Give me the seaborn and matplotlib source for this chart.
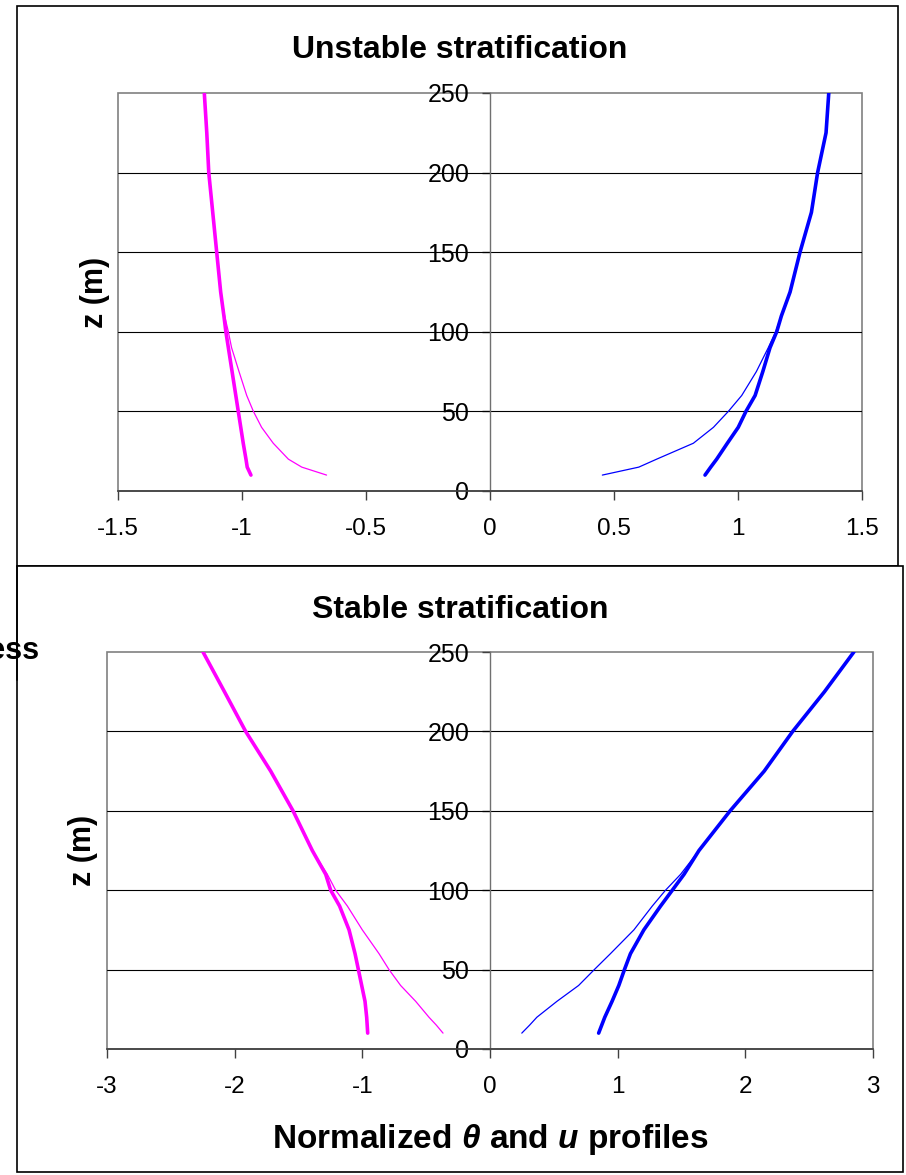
import numpy as np
import pandas as pd
import matplotlib.pyplot as plt
import seaborn as sns
from matplotlib.patches import Rectangle
from matplotlib.lines import Line2D

sns.set_style("white")
plt.rcParams['font.family'] = ['Liberation Sans', 'DejaVu Sans']
plt.rcParams['axes.unicode_minus'] = False
plt.rcParams['mathtext.fontset'] = 'custom'
plt.rcParams['mathtext.it'] = 'Liberation Sans:italic:bold'
plt.rcParams['mathtext.rm'] = 'Liberation Sans:bold'
plt.rcParams['text.color'] = 'black'
plt.rcParams['xtick.color'] = 'black'
plt.rcParams['ytick.color'] = 'black'

# heights (m)
z = [10, 15, 20, 30, 40, 50, 60, 75, 90, 100, 110, 125, 150, 175, 200, 225, 250]

# unstable case
unst_theta_thick = [-0.964, -0.979, -0.984, -0.995, -1.005, -1.015, -1.025, -1.040, -1.055,
                    -1.065, -1.073, -1.086, -1.102, -1.118, -1.134, -1.142, -1.152]
unst_theta_thin = [-0.659, -0.759, -0.813, -0.874, -0.921, -0.954, -0.981, -1.012, -1.042,
                   -1.055, -1.070, -1.086, -1.102, -1.118, -1.134, -1.142, -1.152]
unst_u_thick = [0.867, 0.890, 0.914, 0.957, 1.001, 1.032, 1.069, 1.100, 1.129,
                1.156, 1.175, 1.210, 1.250, 1.296, 1.321, 1.355, 1.366]
unst_u_thin = [0.453, 0.600, 0.672, 0.820, 0.901, 0.961, 1.015, 1.074, 1.122,
               1.152, 1.175, 1.210, 1.250, 1.296, 1.321, 1.355, 1.366]

# stable case
stab_theta_thick = [-0.958, -0.962, -0.966, -0.979, -1.005, -1.031, -1.057, -1.104, -1.178,
                    -1.248, -1.287, -1.392, -1.543, -1.718, -1.914, -2.080, -2.248]
stab_theta_thin = [-0.368, -0.420, -0.478, -0.582, -0.700, -0.791, -0.869, -1.000, -1.117,
                   -1.209, -1.274, -1.392, -1.543, -1.718, -1.914, -2.080, -2.248]
stab_u_thick = [0.851, 0.875, 0.899, 0.956, 1.009, 1.053, 1.100, 1.205, 1.336,
                1.428, 1.520, 1.637, 1.881, 2.148, 2.371, 2.620, 2.850]
stab_u_thin = [0.249, 0.310, 0.367, 0.524, 0.694, 0.817, 0.943, 1.127, 1.271,
               1.375, 1.493, 1.637, 1.881, 2.148, 2.371, 2.620, 2.850]

unst_xticks = [-1.5, -1, -0.5, 0, 0.5, 1, 1.5]
unst_xlabels = ['-1.5', '-1', '-0.5', '0', '0.5', '1', '1.5']
stab_xticks = [-3, -2, -1, 0, 1, 2, 3]
stab_xlabels = ['-3', '-2', '-1', '0', '1', '2', '3']
zticks = [0, 50, 100, 150, 200, 250]

MAG = '#FF00FF'
BLU = '#0000FF'

W, H = 906, 1175
fig = plt.figure(figsize=(W / 100, H / 100), dpi=100)

# outer chart boxes (behind the axes)
fig.add_artist(Rectangle((17 / W, 1 - 566 / H), (898 - 17) / W, (566 - 6) / H,
                         transform=fig.transFigure, fill=False, ec='black', lw=1.2,
                         zorder=-10))
fig.add_artist(Rectangle((17 / W, 1 - 1172 / H), (903 - 17) / W, (1172 - 566) / H,
                         transform=fig.transFigure, fc='white', ec='black', lw=1.2,
                         zorder=-9))


def panel(rect, series, xticks, xlabels, title, title_y):
    ax = fig.add_axes(rect)
    for vals, col, lw in series:
        df = pd.DataFrame({'x': vals, 'z': z})
        sns.lineplot(data=df, x='x', y='z', sort=False, estimator=None,
                     color=col, lw=lw, ax=ax)
    ax.set_xlim(xticks[0], xticks[-1])
    ax.set_ylim(0, 250)
    ax.set_xticks(xticks)
    ax.set_xticklabels(xlabels)
    ax.set_yticks(zticks)
    ax.set_yticklabels([str(t) for t in zticks])
    ax.set_xlabel('')
    ax.set_ylabel('')
    for y in zticks[1:-1]:
        ax.axhline(y, color='black', lw=0.8, zorder=1)
    ax.spines['left'].set_position(('data', 0))
    ax.spines['left'].set_color('#707070')
    ax.spines['left'].set_linewidth(1.0)
    ax.spines['bottom'].set_color('#404040')
    ax.spines['bottom'].set_linewidth(1.2)
    ax.spines['top'].set_visible(False)
    ax.spines['right'].set_visible(False)
    ax.add_patch(Rectangle((0, 0), 1, 1, transform=ax.transAxes, fill=False,
                           ec='#808080', lw=1.2, clip_on=False, zorder=0.5))
    ax.tick_params(axis='y', direction='out', length=6, width=1, color='#404040',
                   pad=9, labelsize=18, left=True)
    ax.tick_params(axis='x', direction='out', length=6.5, width=1, color='#404040',
                   pad=13, labelsize=17.5, bottom=True)
    ax.text(-0.031, 0.5, 'z (m)', transform=ax.transAxes, rotation=90,
            ha='center', va='center', fontsize=22, fontweight='bold')
    fig.text(460 / W, 1 - title_y / H, title, ha='center', va='baseline',
             fontsize=23, fontweight='bold')
    return ax


panel([118 / W, 1 - 491 / H, 744 / W, 398 / H],
      [(unst_theta_thick, MAG, 2.6), (unst_theta_thin, MAG, 0.9),
       (unst_u_thick, BLU, 2.6), (unst_u_thin, BLU, 0.9)],
      unst_xticks, unst_xlabels, 'Unstable stratification', 58)

panel([107 / W, 1 - 1049 / H, 766 / W, 397 / H],
      [(stab_theta_thick, MAG, 2.6), (stab_theta_thin, MAG, 0.9),
       (stab_u_thick, BLU, 2.6), (stab_u_thin, BLU, 0.9)],
      stab_xticks, stab_xlabels, 'Stable stratification', 618)

fig.text(490 / W, 1 - 1148 / H, r'Normalized $\theta$ and $u$ profiles',
         ha='center', va='baseline', fontsize=24, fontweight='bold')

# clipped label from a neighbouring chart
fig.add_artist(Line2D([17 / W, 17 / W], [1 - 566 / H, 1 - 680 / H],
                      transform=fig.transFigure, color='black', lw=1.2))
fig.text(39 / W, 1 - 659 / H, 'Dimensionless', ha='right', va='baseline',
         fontsize=22, fontweight='bold')

fig.savefig('out.png', dpi=100)
